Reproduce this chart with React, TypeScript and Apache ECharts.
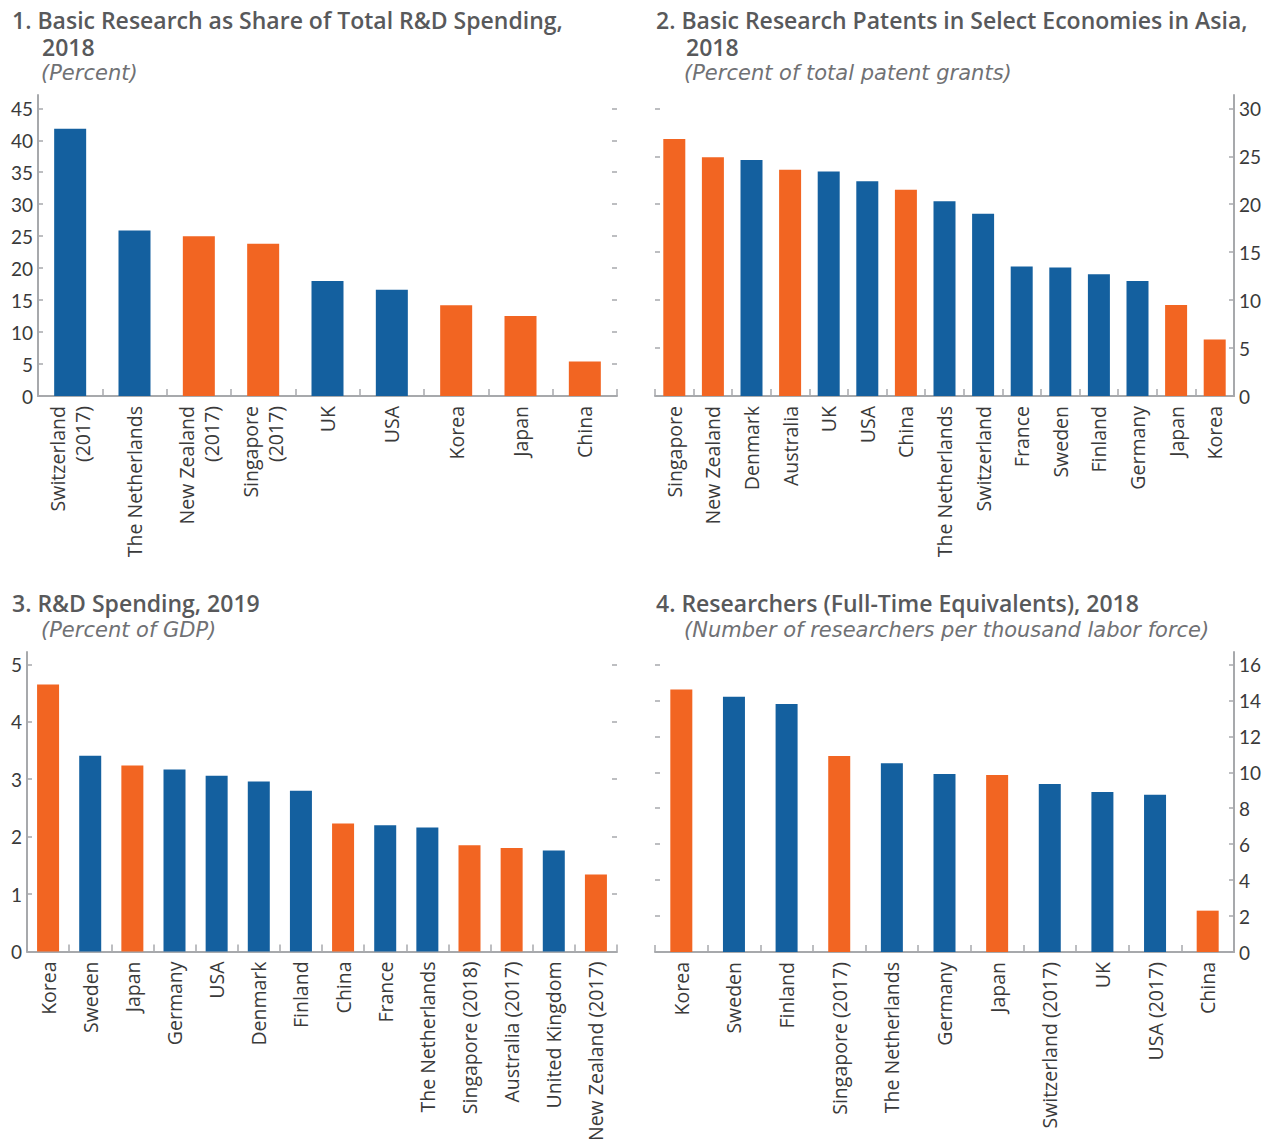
import React, { useEffect, useRef } from 'react';
import * as echarts from 'echarts';

const BLUE = '#14609f';
const ORANGE = '#f26522';
const AXIS = '#a7a9ac';
const LABEL = '#3a3a3a';
const TITLE = '#58595b';
const SUB = '#707174';
const FONT = 'Lato';
const WIDE = "'Open Sans'";

// Panel 1: Basic research as share of total R&D spending, 2018 (percent)
const p1Categories = ['Switzerland\n(2017)', 'The Netherlands', 'New Zealand\n(2017)', 'Singapore\n(2017)', 'UK', 'USA', 'Korea', 'Japan', 'China'];
const p1Values = [41.8, 25.9, 25.0, 23.8, 18.0, 16.6, 14.2, 12.5, 5.4];
const p1Asia = [0, 0, 1, 1, 0, 0, 1, 1, 1];
const p1Ticks = [0, 5, 10, 15, 20, 25, 30, 35, 40, 45];

// Panel 2: Basic research patents (percent of total patent grants)
const p2Categories = ['Singapore', 'New Zealand', 'Denmark', 'Australia', 'UK', 'USA', 'China', 'The Netherlands', 'Switzerland', 'France', 'Sweden', 'Finland', 'Germany', 'Japan', 'Korea'];
const p2Values = [26.8, 24.9, 24.6, 23.6, 23.4, 22.4, 21.5, 20.3, 19.0, 13.5, 13.4, 12.7, 12.0, 9.5, 5.9];
const p2Asia = [1, 1, 0, 1, 0, 0, 1, 0, 0, 0, 0, 0, 0, 1, 1];
const p2Ticks = [0, 5, 10, 15, 20, 25, 30];

// Panel 3: R&D spending, 2019 (percent of GDP)
const p3Categories = ['Korea', 'Sweden', 'Japan', 'Germany', 'USA', 'Denmark', 'Finland', 'China', 'France', 'The Netherlands', 'Singapore (2018)', 'Australia (2017)', 'United Kingdom', 'New Zealand (2017)'];
const p3Values = [4.65, 3.41, 3.24, 3.17, 3.06, 2.96, 2.80, 2.23, 2.20, 2.16, 1.85, 1.80, 1.76, 1.34];
const p3Asia = [1, 0, 1, 0, 0, 0, 0, 1, 0, 0, 1, 1, 0, 1];
const p3Ticks = [0, 1, 2, 3, 4, 5];

// Panel 4: Researchers per thousand labor force, 2018
const p4Categories = ['Korea', 'Sweden', 'Finland', 'Singapore (2017)', 'The Netherlands', 'Germany', 'Japan', 'Switzerland (2017)', 'UK', 'USA (2017)', 'China'];
const p4Values = [14.6, 14.2, 13.8, 10.9, 10.5, 9.9, 9.85, 9.35, 8.9, 8.75, 2.3];
const p4Asia = [1, 0, 0, 1, 0, 0, 1, 0, 0, 0, 1];
const p4Ticks = [0, 2, 4, 6, 8, 10, 12, 14, 16];

const titleTexts = [
  '1. Basic Research as Share of Total R&D Spending,',
  '2018',
  '2. Basic Research Patents in Select Economies in Asia,',
  '2018',
  '3. R&D Spending, 2019',
  '4. Researchers (Full-Time Equivalents), 2018',
];
const subtitleTexts = [
  '(Percent)',
  '(Percent of total patent grants)',
  '(Percent of GDP)',
  '(Number of researchers per thousand labor force)',
];

type Panel = {
  cats: string[];
  vals: number[];
  asia: number[];
  ticks: number[];
  max: number;
  side: 'left' | 'right';
  grid: { left: number; top: number; width: number; height: number };
  barWidth: number;
};

const panels: Panel[] = [
  { cats: p1Categories, vals: p1Values, asia: p1Asia, ticks: p1Ticks, max: 47.08, side: 'left', grid: { left: 38, top: 95, width: 579, height: 301 }, barWidth: 32 },
  { cats: p2Categories, vals: p2Values, asia: p2Asia, ticks: p2Ticks, max: 31.39, side: 'right', grid: { left: 655, top: 95, width: 579, height: 301 }, barWidth: 22 },
  { cats: p3Categories, vals: p3Values, asia: p3Asia, ticks: p3Ticks, max: 5.216, side: 'left', grid: { left: 27, top: 652, width: 590, height: 300 }, barWidth: 22 },
  { cats: p4Categories, vals: p4Values, asia: p4Asia, ticks: p4Ticks, max: 16.69, side: 'right', grid: { left: 655, top: 652, width: 579, height: 300 }, barWidth: 22 },
];

function buildOption() {
  const grid: any[] = [];
  const xAxis: any[] = [];
  const yAxis: any[] = [];
  const series: any[] = [];
  panels.forEach((p, i) => {
    grid.push({ ...p.grid, containLabel: false });
    xAxis.push({
      gridIndex: i,
      type: 'category',
      data: p.cats,
      axisLine: { show: true, lineStyle: { color: AXIS, width: 2 } },
      axisTick: { show: true, inside: true, length: 7, lineStyle: { color: AXIS, width: 1.5 } },
      axisLabel: { rotate: 90, fontSize: 19.5, fontFamily: WIDE, color: LABEL, margin: 10, lineHeight: 25, interval: 0 },
      splitLine: { show: false },
    });
    const other = p.side === 'left' ? 'right' : 'left';
    yAxis.push({
      gridIndex: i,
      type: 'value',
      position: p.side,
      min: 0,
      max: p.max,
      axisLine: { show: true, onZero: false, lineStyle: { color: AXIS, width: 2 } },
      axisTick: { show: true, inside: true, length: 5, customValues: p.ticks, lineStyle: { color: AXIS, width: 1.5 } },
      axisLabel: { show: true, customValues: p.ticks, fontSize: 19, fontFamily: FONT, color: LABEL, margin: 5 },
      splitLine: { show: false },
    });
    yAxis.push({
      gridIndex: i,
      type: 'value',
      position: other,
      min: 0,
      max: p.max,
      axisLine: { show: false },
      axisTick: { show: true, inside: true, length: 5, customValues: p.ticks.filter((t) => t > 0), lineStyle: { color: AXIS, width: 1.5 } },
      axisLabel: { show: false },
      splitLine: { show: false },
    });
    series.push({
      type: 'bar',
      xAxisIndex: i,
      yAxisIndex: i * 2,
      barWidth: p.barWidth,
      data: p.vals.map((v, k) => ({ value: v, itemStyle: { color: p.asia[k] ? ORANGE : BLUE } })),
    });
  });

  const titleFont = `600 23px ${WIDE}`;
  const subFont = `italic 300 21px 'DejaVu Sans'`;
  const txt = (text: string, x: number, y: number, font: string, fill: string) => ({
    type: 'text',
    x,
    y,
    style: { text, font, fill, align: 'left', verticalAlign: 'middle', lineHeight: 24 },
  });
  // Two-line title as one text element; second line indented
  const twoLine = (l1: string, l2: string, x: number, y: number) => ({
    type: 'text',
    x,
    y,
    style: {
      text: `{a|${l1}}\n{b|${l2}}`,
      align: 'left',
      verticalAlign: 'top',
      rich: {
        a: { font: titleFont, fill: TITLE, color: TITLE, lineHeight: 27 },
        b: { font: titleFont, fill: TITLE, color: TITLE, lineHeight: 27, padding: [0, 0, 0, 30] },
      },
    },
  });
  const graphic = [
    twoLine(titleTexts[0], titleTexts[1], 12, 6),
    txt(subtitleTexts[0], 41, 73, subFont, SUB),
    twoLine(titleTexts[2], titleTexts[3], 656, 6),
    txt(subtitleTexts[1], 684, 73, subFont, SUB),
    txt(titleTexts[4], 12, 603, titleFont, TITLE),
    txt(subtitleTexts[2], 41, 630, subFont, SUB),
    txt(titleTexts[5], 656, 603, titleFont, TITLE),
    txt(subtitleTexts[3], 684, 630, subFont, SUB),
  ];

  return { animation: false, backgroundColor: '#ffffff', grid, xAxis, yAxis, series, graphic };
}

export default function App() {
  const ref = useRef<HTMLDivElement>(null);
  useEffect(() => {
    document.body.style.margin = '0';
    const chart = echarts.init(ref.current!, undefined, { renderer: 'svg' });
    chart.setOption(buildOption() as any);
    return () => chart.dispose();
  }, []);
  return <div ref={ref} style={{ width: 1269, height: 1144 }} />;
}
